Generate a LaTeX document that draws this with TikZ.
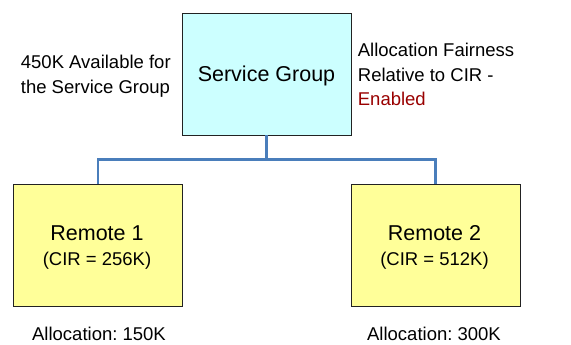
\documentclass[tikz,border=0pt]{standalone}
\usepackage{fontspec}
\setmainfont{Liberation Sans}
\frenchspacing
\definecolor{sgfill}{HTML}{CCFFFF}
\definecolor{rfill}{HTML}{FFFF99}
\definecolor{conn}{HTML}{4A7EBB}
\definecolor{enred}{HTML}{990000}
\definecolor{edge}{HTML}{222222}
\tikzset{
  box/.style={draw=edge, line width=0.9pt, minimum width=169pt, minimum height=122pt, inner sep=0pt},
  link/.style={draw=conn, line width=2.2pt},
  txt/.style={inner sep=0pt, font=\fontsize{18.5}{24}\selectfont},
  bigtxt/.style={inner sep=0pt, font=\fontsize{21.5}{26}\selectfont},
}
\begin{document}
\begin{tikzpicture}[x=1pt,y=-1pt]
\useasboundingbox (0,0) rectangle (571,345);
% connectors
\coordinate (j) at (266.5,159.5);
% boxes
\node[box, fill=sgfill] (sg) at (266.5,74) {};
\node[box, fill=rfill] (r1) at (98,245) {};
\node[box, fill=rfill] (r2) at (435.5,245) {};
\draw[link] (sg.south) -- (j);
\draw[link] (r1.north) |- (j) -| (r2.north);
% box texts
\node[bigtxt, anchor=base] (sgt) at (266.5,81.7) {Service Group};
\node[bigtxt, anchor=base] (r1t) at (97,240) {Remote 1};
\node[txt, anchor=base] (r1c) at (97,265.5) {(CIR = 256K)};
\node[bigtxt, anchor=base] (r2t) at (434.5,240) {Remote 2};
\node[txt, anchor=base] (r2c) at (434.5,265.5) {(CIR = 512K)};
% side texts
\node[txt, anchor=base west] (l1) at (20.7,68.3) {450K Available for};
\node[txt, anchor=base west] (l2) at (20.7,93.3) {the Service Group};
\node[txt, anchor=base west] (a1) at (357.7,56.8) {Allocation Fairness};
\node[txt, anchor=base west] (a2) at (357.7,81.2) {Relative to CIR -};
\node[txt, anchor=base west, text=enred] (a3) at (357.7,105.2) {Enabled};
% allocations
\node[txt, anchor=base] (al1) at (99,340.3) {Allocation: 150K};
\node[txt, anchor=base] (al2) at (434,340.7) {Allocation: 300K};
\end{tikzpicture}
\end{document}
